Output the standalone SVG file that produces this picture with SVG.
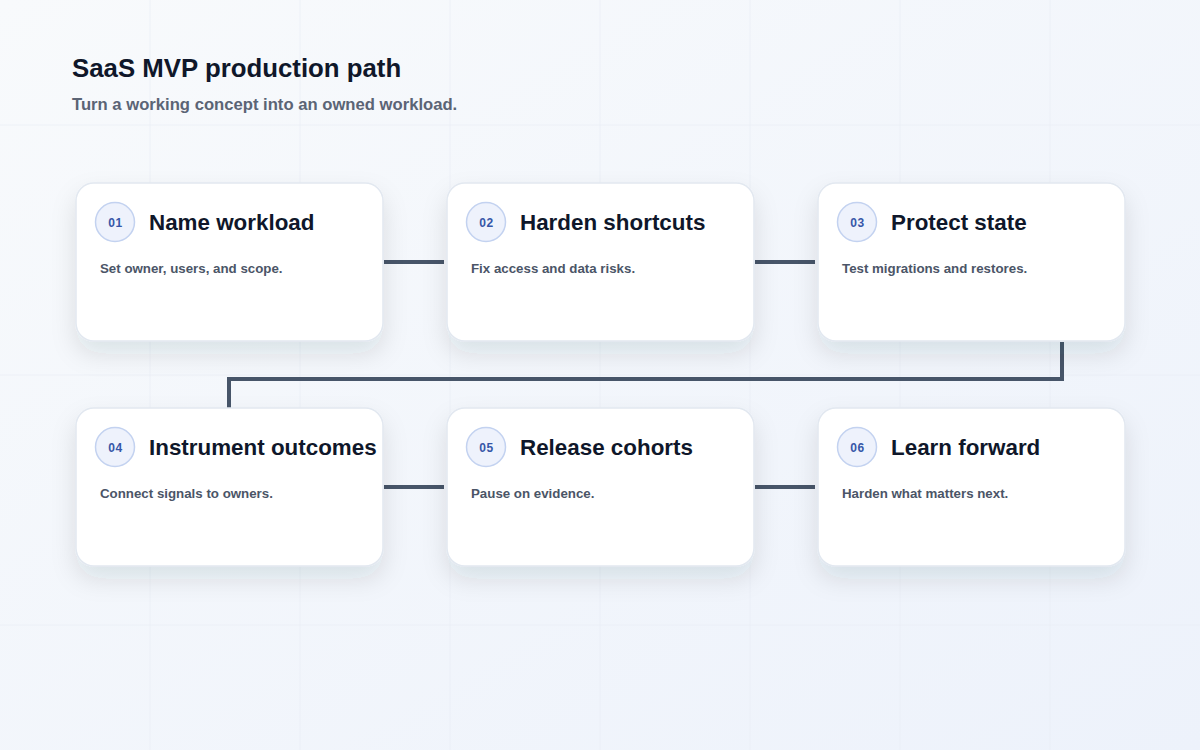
<svg xmlns="http://www.w3.org/2000/svg" width="1200" height="750" viewBox="0 0 1200 750">
  <defs>
    <linearGradient id="bg" x1="0" y1="0" x2="1" y2="1">
      <stop offset="0" stop-color="#f8fafc"/>
      <stop offset="1" stop-color="#edf2fb"/>
    </linearGradient>
    <filter id="shadow" x="-20%" y="-20%" width="140%" height="170%">
      <feDropShadow dx="0" dy="12" stdDeviation="12" flood-color="#1e293b" flood-opacity="0.11"/>
    </filter>
    <style>
      .card { fill: #ffffff; stroke: #e2e8f0; stroke-width: 1.5; filter: url(#shadow); }
      .badge { fill: #eef2fc; stroke: #c3d2f0; stroke-width: 1.5; }
      .num { font-family: "Liberation Sans", Arial, sans-serif; font-size: 12px; font-weight: 700; fill: #3657a8; text-anchor: middle; letter-spacing: 0.5px; }
      .ttl { font-family: "Liberation Sans", Arial, sans-serif; font-size: 22.4px; font-weight: 700; fill: #0f172a; }
      .desc { font-family: "Liberation Sans", Arial, sans-serif; font-size: 13.3px; font-weight: 700; fill: #4b5567; }
      .conn { fill: none; stroke: #475569; stroke-width: 4; }
      .grid { stroke: #e9edf5; stroke-width: 1; opacity: 0.7; }
    </style>
  </defs>
  <rect width="1200" height="750" fill="url(#bg)"/>
  <g id="grid">
    <line class="grid" x1="150" y1="0" x2="150" y2="750"/>
    <line class="grid" x1="300" y1="0" x2="300" y2="750"/>
    <line class="grid" x1="450" y1="0" x2="450" y2="750"/>
    <line class="grid" x1="600" y1="0" x2="600" y2="750"/>
    <line class="grid" x1="750" y1="0" x2="750" y2="750"/>
    <line class="grid" x1="900" y1="0" x2="900" y2="750"/>
    <line class="grid" x1="1050" y1="0" x2="1050" y2="750"/>
    <line class="grid" x1="0" y1="125" x2="1200" y2="125"/>
    <line class="grid" x1="0" y1="375" x2="1200" y2="375"/>
    <line class="grid" x1="0" y1="625" x2="1200" y2="625"/>
  </g>
  <g id="header">
    <text x="72" y="77" font-family="Liberation Sans, Arial, sans-serif" font-size="25.8" font-weight="700" fill="#0f172a">SaaS MVP production path</text>
    <text x="72" y="110" font-family="Liberation Sans, Arial, sans-serif" font-size="16.65" font-weight="700" fill="#5b6475">Turn a working concept into an owned workload.</text>
  </g>
  <g id="connectors">
    <line class="conn" x1="384" y1="262" x2="444" y2="262"/>
    <line class="conn" x1="755" y1="262" x2="815" y2="262"/>
    <polyline class="conn" points="1062,342 1062,379 229,379 229,408"/>
    <line class="conn" x1="384" y1="487" x2="444" y2="487"/>
    <line class="conn" x1="755" y1="487" x2="815" y2="487"/>
  </g>
  <g id="n1">
    <rect class="card" x="76" y="183" width="307" height="158" rx="18"/>
    <circle class="badge" cx="115" cy="222" r="19.5"/>
    <text class="num" x="115.5" y="226.5">01</text>
    <text class="ttl" x="149" y="230">Name workload</text>
    <text class="desc" x="100" y="273">Set owner, users, and scope.</text>
  </g>
  <g id="n2">
    <rect class="card" x="447" y="183" width="307" height="158" rx="18"/>
    <circle class="badge" cx="486" cy="222" r="19.5"/>
    <text class="num" x="486.5" y="226.5">02</text>
    <text class="ttl" x="520" y="230">Harden shortcuts</text>
    <text class="desc" x="471" y="273">Fix access and data risks.</text>
  </g>
  <g id="n3">
    <rect class="card" x="818" y="183" width="307" height="158" rx="18"/>
    <circle class="badge" cx="857" cy="222" r="19.5"/>
    <text class="num" x="857.5" y="226.5">03</text>
    <text class="ttl" x="891" y="230">Protect state</text>
    <text class="desc" x="842" y="273">Test migrations and restores.</text>
  </g>
  <g id="n4">
    <rect class="card" x="76" y="408" width="307" height="158" rx="18"/>
    <circle class="badge" cx="115" cy="447" r="19.5"/>
    <text class="num" x="115.5" y="451.5">04</text>
    <text class="ttl" x="149" y="455">Instrument outcomes</text>
    <text class="desc" x="100" y="498">Connect signals to owners.</text>
  </g>
  <g id="n5">
    <rect class="card" x="447" y="408" width="307" height="158" rx="18"/>
    <circle class="badge" cx="486" cy="447" r="19.5"/>
    <text class="num" x="486.5" y="451.5">05</text>
    <text class="ttl" x="520" y="455">Release cohorts</text>
    <text class="desc" x="471" y="498">Pause on evidence.</text>
  </g>
  <g id="n6">
    <rect class="card" x="818" y="408" width="307" height="158" rx="18"/>
    <circle class="badge" cx="857" cy="447" r="19.5"/>
    <text class="num" x="857.5" y="451.5">06</text>
    <text class="ttl" x="891" y="455">Learn forward</text>
    <text class="desc" x="842" y="498">Harden what matters next.</text>
  </g>
</svg>
